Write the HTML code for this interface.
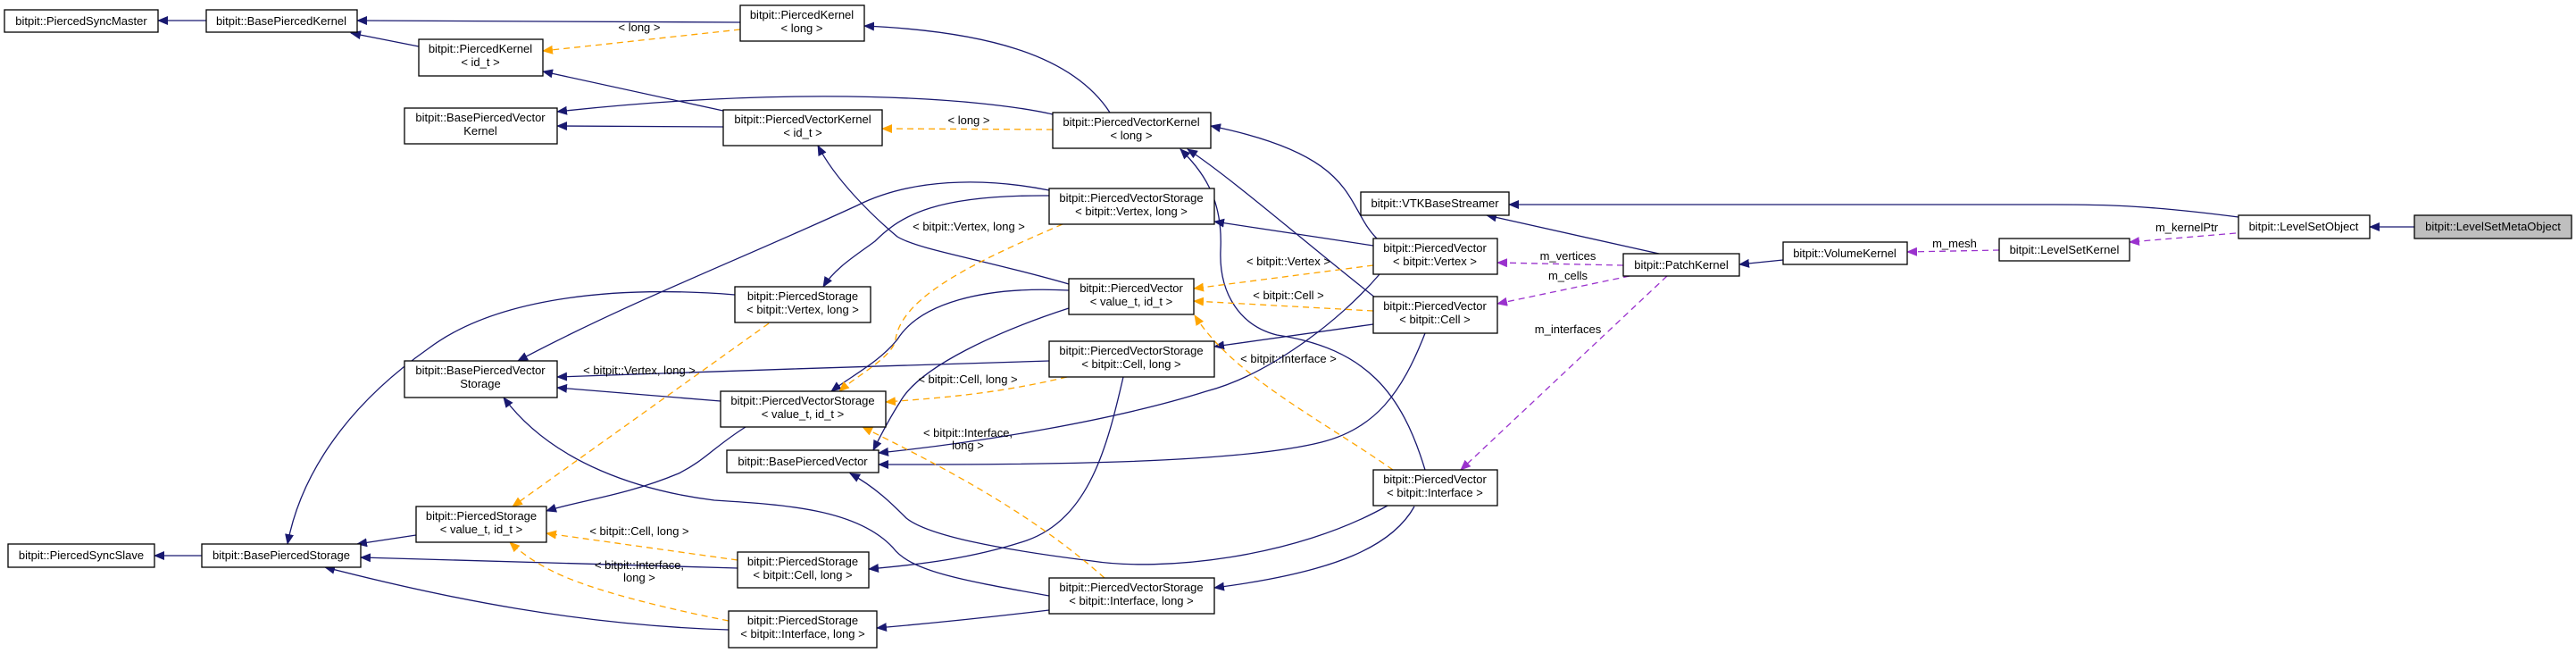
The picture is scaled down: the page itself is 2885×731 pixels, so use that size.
<!DOCTYPE html>
<html><head><meta charset="utf-8"><style>
html,body{margin:0;padding:0;background:#fff}
svg{display:block}
text{font-family:"Liberation Sans",Arial,sans-serif;font-size:13px;text-anchor:middle;fill:#000}
.b{fill:#fff;stroke:#000;stroke-width:1.3}
.n{fill:none;stroke:#191970;stroke-width:1.3}
.o{fill:none;stroke:#ffa500;stroke-width:1.3;stroke-dasharray:7,5}
.p{fill:none;stroke:#9a32cd;stroke-width:1.3;stroke-dasharray:7,5}
</style></head><body>
<svg width="2885" height="731" viewBox="0 0 2885 731" xmlns="http://www.w3.org/2000/svg">
<defs>
<marker id="mn" markerWidth="12" markerHeight="10" refX="11" refY="5" orient="auto" markerUnits="userSpaceOnUse"><path d="M0,0 L12,5 L0,10 z" fill="#191970"/></marker>
<marker id="mo" markerWidth="12" markerHeight="10" refX="11" refY="5" orient="auto" markerUnits="userSpaceOnUse"><path d="M0,0 L12,5 L0,10 z" fill="#ffa500"/></marker>
<marker id="mp" markerWidth="12" markerHeight="10" refX="11" refY="5" orient="auto" markerUnits="userSpaceOnUse"><path d="M0,0 L12,5 L0,10 z" fill="#9a32cd"/></marker>
</defs>

<!-- navy edges -->
<g marker-end="url(#mn)">
<path class="n" d="M231,23 L177,23"/>
<path class="n" d="M829,25 L400,23"/>
<path class="n" d="M469,52 L393,37"/>
<path class="n" d="M810,124 L608,80"/>
<path class="n" d="M810,142 L624,141"/>
<path class="n" d="M1179,128 C1100,110 900,95 624,125"/>
<path class="n" d="M1243,126 C1200,60 1100,35 968,29"/>
<path class="n" d="M1542,267 C1505,230 1525,175 1356,141"/>
<path class="n" d="M1540,333 C1460,270 1380,200 1330,167"/>
<path class="n" d="M1596,526 C1570,440 1530,390 1430,375 C1390,365 1365,330 1367,280 C1370,220 1345,190 1322,167"/>
<path class="n" d="M1538,275 L1360,248"/>
<path class="n" d="M1538,363 L1360,388"/>
<path class="n" d="M1584,567 C1560,610 1500,640 1360,658"/>
<path class="n" d="M1554,566 C1450,625 1300,640 1223,628 C1120,615 1040,600 1015,580 C1000,565 980,545 952,530"/>
<path class="n" d="M1596,373 C1570,440 1540,480 1480,495 C1380,520 1150,520 984,520"/>
<path class="n" d="M1545,307 C1500,360 1420,420 1351,438 C1250,470 1100,495 984,507"/>
<path class="n" d="M1197,345 C1120,370 1030,410 1008,450 C995,470 985,490 978,504"/>
<path class="n" d="M1197,325 C1100,320 1030,340 1005,380 C985,405 955,420 931,438"/>
<path class="n" d="M1197,318 C1100,290 1030,280 1005,265 C975,240 935,200 916,163"/>
<path class="n" d="M1175,213 C1100,198 1020,200 960,230 C830,290 700,340 580,404"/>
<path class="n" d="M1175,219 C1050,218 1010,240 980,270 C960,285 935,300 922,321"/>
<path class="n" d="M823,330 C700,320 560,330 480,390 C380,460 335,540 322,609"/>
<path class="n" d="M807,449 L624,434"/>
<path class="n" d="M1175,404 C1000,410 800,415 624,422"/>
<path class="n" d="M835,478 C800,500 790,515 760,530 C700,555 650,560 612,572"/>
<path class="n" d="M1175,667 C1080,650 1020,640 1000,613 C960,570 880,565 800,560 C720,550 620,520 564,445"/>
<path class="n" d="M816,705 C650,700 500,670 364,635"/>
<path class="n" d="M1175,683 C1100,692 1040,698 982,703"/>
<path class="n" d="M1258,422 C1240,500 1220,580 1150,605 C1090,625 1030,632 973,637"/>
<path class="n" d="M826,636 L404,624"/>
<path class="n" d="M466,599 L400,609"/>
<path class="n" d="M226,622 L173,622"/>
<path class="n" d="M1858,284 L1665,241"/>
<path class="n" d="M1997,291 L1948,296"/>
<path class="n" d="M2704,254 L2654,254"/>
<path class="n" d="M2507,243 C2400,229 2350,229 2300,229 L1690,229"/>
</g>

<!-- orange edges -->
<g marker-end="url(#mo)">
<path class="o" d="M829,33 L608,57"/>
<path class="o" d="M1179,145 L988,144"/>
<path class="o" d="M1538,297 L1337,323"/>
<path class="o" d="M1538,348 L1337,337"/>
<path class="o" d="M1560,526 C1480,470 1380,420 1338,353"/>
<path class="o" d="M1190,251 C1100,290 1010,330 1003,380 C1000,400 960,420 940,438"/>
<path class="o" d="M861,362 L574,567"/>
<path class="o" d="M826,627 L612,597"/>
<path class="o" d="M816,695 C740,680 660,660 620,640 C600,630 585,620 571,607"/>
<path class="o" d="M1195,422 C1120,440 1060,445 992,450"/>
<path class="o" d="M1237,647 C1150,570 1050,520 966,478"/>
</g>

<!-- purple edges -->
<g marker-end="url(#mp)">
<path class="p" d="M2239,280 L2136,282"/>
<path class="p" d="M2504,261 L2385,271"/>
<path class="p" d="M1818,297 L1677,294"/>
<path class="p" d="M1825,309 L1677,340"/>
<path class="p" d="M1867,309 L1636,526"/>
</g>

<!-- edge labels -->
<text x="716" y="35">&lt; long &gt;</text>
<text x="1085" y="139">&lt; long &gt;</text>
<text x="1085" y="258">&lt; bitpit::Vertex, long &gt;</text>
<text x="1443" y="297">&lt; bitpit::Vertex &gt;</text>
<text x="1443" y="335">&lt; bitpit::Cell &gt;</text>
<text x="1443" y="406">&lt; bitpit::Interface &gt;</text>
<text x="1084" y="429">&lt; bitpit::Cell, long &gt;</text>
<text x="1084" y="489">&lt; bitpit::Interface,</text>
<text x="1084" y="503">long &gt;</text>
<text x="716" y="419">&lt; bitpit::Vertex, long &gt;</text>
<text x="716" y="599">&lt; bitpit::Cell, long &gt;</text>
<text x="716" y="637">&lt; bitpit::Interface,</text>
<text x="716" y="651">long &gt;</text>
<text x="1756" y="291">m_vertices</text>
<text x="1756" y="313">m_cells</text>
<text x="1756" y="373">m_interfaces</text>
<text x="2189" y="277">m_mesh</text>
<text x="2449" y="259">m_kernelPtr</text>

<!-- nodes -->
<rect class="b" x="5" y="11" width="172" height="25"/><text x="91" y="28">bitpit::PiercedSyncMaster</text>
<rect class="b" x="231" y="11" width="169" height="25"/><text x="315" y="28">bitpit::BasePiercedKernel</text>
<rect class="b" x="829" y="6" width="139" height="40"/><text x="898" y="21">bitpit::PiercedKernel</text><text x="898" y="36">&lt; long &gt;</text>
<rect class="b" x="469" y="44" width="139" height="41"/><text x="538" y="59">bitpit::PiercedKernel</text><text x="538" y="74">&lt; id_t &gt;</text>
<rect class="b" x="453" y="121" width="171" height="40"/><text x="538" y="136">bitpit::BasePiercedVector</text><text x="538" y="151">Kernel</text>
<rect class="b" x="810" y="123" width="178" height="40"/><text x="899" y="138">bitpit::PiercedVectorKernel</text><text x="899" y="153">&lt; id_t &gt;</text>
<rect class="b" x="1179" y="126" width="177" height="40"/><text x="1267" y="141">bitpit::PiercedVectorKernel</text><text x="1267" y="156">&lt; long &gt;</text>
<rect class="b" x="1175" y="211" width="185" height="40"/><text x="1267" y="226">bitpit::PiercedVectorStorage</text><text x="1267" y="241">&lt; bitpit::Vertex, long &gt;</text>
<rect class="b" x="1524" y="215" width="166" height="26"/><text x="1607" y="232">bitpit::VTKBaseStreamer</text>
<rect class="b" x="1538" y="267" width="139" height="40"/><text x="1607" y="282">bitpit::PiercedVector</text><text x="1607" y="297">&lt; bitpit::Vertex &gt;</text>
<rect class="b" x="1818" y="284" width="130" height="25"/><text x="1883" y="301">bitpit::PatchKernel</text>
<rect class="b" x="1997" y="271" width="139" height="25"/><text x="2066" y="288">bitpit::VolumeKernel</text>
<rect class="b" x="2239" y="267" width="146" height="25"/><text x="2312" y="284">bitpit::LevelSetKernel</text>
<rect class="b" x="2507" y="241" width="147" height="26"/><text x="2580" y="258">bitpit::LevelSetObject</text>
<rect x="2704" y="241" width="176" height="26" fill="#bfbfbf" stroke="#000" stroke-width="1.3"/><text x="2792" y="258">bitpit::LevelSetMetaObject</text>
<rect class="b" x="823" y="321" width="152" height="40"/><text x="899" y="336">bitpit::PiercedStorage</text><text x="899" y="351">&lt; bitpit::Vertex, long &gt;</text>
<rect class="b" x="1197" y="312" width="140" height="40"/><text x="1267" y="327">bitpit::PiercedVector</text><text x="1267" y="342">&lt; value_t, id_t &gt;</text>
<rect class="b" x="1538" y="332" width="139" height="41"/><text x="1607" y="347">bitpit::PiercedVector</text><text x="1607" y="362">&lt; bitpit::Cell &gt;</text>
<rect class="b" x="1175" y="382" width="185" height="40"/><text x="1267" y="397">bitpit::PiercedVectorStorage</text><text x="1267" y="412">&lt; bitpit::Cell, long &gt;</text>
<rect class="b" x="453" y="404" width="171" height="41"/><text x="538" y="419">bitpit::BasePiercedVector</text><text x="538" y="434">Storage</text>
<rect class="b" x="807" y="438" width="185" height="40"/><text x="899" y="453">bitpit::PiercedVectorStorage</text><text x="899" y="468">&lt; value_t, id_t &gt;</text>
<rect class="b" x="814" y="504" width="170" height="25"/><text x="899" y="521">bitpit::BasePiercedVector</text>
<rect class="b" x="1538" y="526" width="139" height="40"/><text x="1607" y="541">bitpit::PiercedVector</text><text x="1607" y="556">&lt; bitpit::Interface &gt;</text>
<rect class="b" x="466" y="567" width="146" height="40"/><text x="539" y="582">bitpit::PiercedStorage</text><text x="539" y="597">&lt; value_t, id_t &gt;</text>
<rect class="b" x="9" y="609" width="164" height="26"/><text x="91" y="626">bitpit::PiercedSyncSlave</text>
<rect class="b" x="226" y="609" width="178" height="26"/><text x="315" y="626">bitpit::BasePiercedStorage</text>
<rect class="b" x="826" y="618" width="147" height="40"/><text x="899" y="633">bitpit::PiercedStorage</text><text x="899" y="648">&lt; bitpit::Cell, long &gt;</text>
<rect class="b" x="1175" y="647" width="185" height="40"/><text x="1267" y="662">bitpit::PiercedVectorStorage</text><text x="1267" y="677">&lt; bitpit::Interface, long &gt;</text>
<rect class="b" x="816" y="684" width="166" height="41"/><text x="899" y="699">bitpit::PiercedStorage</text><text x="899" y="714">&lt; bitpit::Interface, long &gt;</text>
</svg>
</body></html>
